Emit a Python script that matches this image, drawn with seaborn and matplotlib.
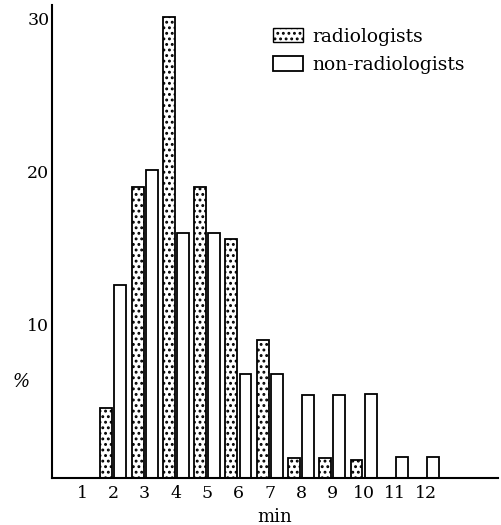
import numpy as np
import pandas as pd
import matplotlib
matplotlib.use('Agg')
import matplotlib.pyplot as plt
import matplotlib.patches as mpatches
import seaborn as sns

minutes = [str(m) for m in range(1, 13)]
radiologists = [0, 4.6, 19.0, 30.1, 19.0, 15.6, 9.0, 1.3, 1.3, 1.2, 0, 0]
non_radiologists = [0, 12.6, 20.1, 16.0, 16.0, 6.8, 6.8, 5.4, 5.4, 5.5, 1.4, 1.4]
groups = ['radiologists', 'non-radiologists']

df = pd.DataFrame({
    'min': minutes * 2,
    'pct': radiologists + non_radiologists,
    'group': [groups[0]] * 12 + [groups[1]] * 12,
})

sns.set_style('white')
plt.rcParams['font.family'] = ['DejaVu Serif']
plt.rcParams['hatch.linewidth'] = 1.3
for key in ['text.color', 'axes.labelcolor', 'xtick.color', 'ytick.color', 'axes.edgecolor']:
    plt.rcParams[key] = 'black'

fig = plt.figure(figsize=(5.01, 5.25), dpi=100)
ax = fig.add_axes([0.104, 0.0895, 0.89, 0.901])

sns.barplot(data=df, x='min', y='pct', hue='group', order=minutes, hue_order=groups,
            palette=['white', 'white'], edgecolor='black', linewidth=1.3,
            width=0.9, gap=0.15, legend=False, ax=ax)

# stipple the radiologist bars
for bar in ax.containers[0]:
    bar.set_hatch('...')
    if bar.get_height() == 0:
        bar.set_visible(False)
for bar in ax.containers[1]:
    if bar.get_height() == 0:
        bar.set_visible(False)

ax.set_xlim(-0.96, 13.3)
ax.set_ylim(0, 30.9)
ax.set_yticks([10, 20, 30])
ax.set_yticklabels(['10', '20', '30'], fontsize=12.5)
ax.tick_params(axis='y', length=3, width=1, direction='in', pad=2)
ax.tick_params(axis='x', length=0, labelsize=12.5, pad=5)
ax.set_xlabel('min', fontsize=13, labelpad=4)
ax.set_ylabel('%', fontsize=13, rotation=0, style='italic')
ax.yaxis.set_label_coords(-0.07, 0.185)

sns.despine(ax=ax)
ax.spines['left'].set_linewidth(1.5)
ax.spines['bottom'].set_linewidth(1.5)

handles = [mpatches.Patch(facecolor='white', edgecolor='black', hatch='...', label=groups[0]),
           mpatches.Patch(facecolor='white', edgecolor='black', linewidth=1.3, label=groups[1])]
ax.legend(handles=handles, loc='upper left', bbox_to_anchor=(0.495, 0.952), frameon=False,
          fontsize=13.5, borderpad=0, borderaxespad=0, handlelength=1.6, handleheight=0.8,
          handletextpad=0.5, labelspacing=0.55)

fig.savefig('out.png', dpi=100)
